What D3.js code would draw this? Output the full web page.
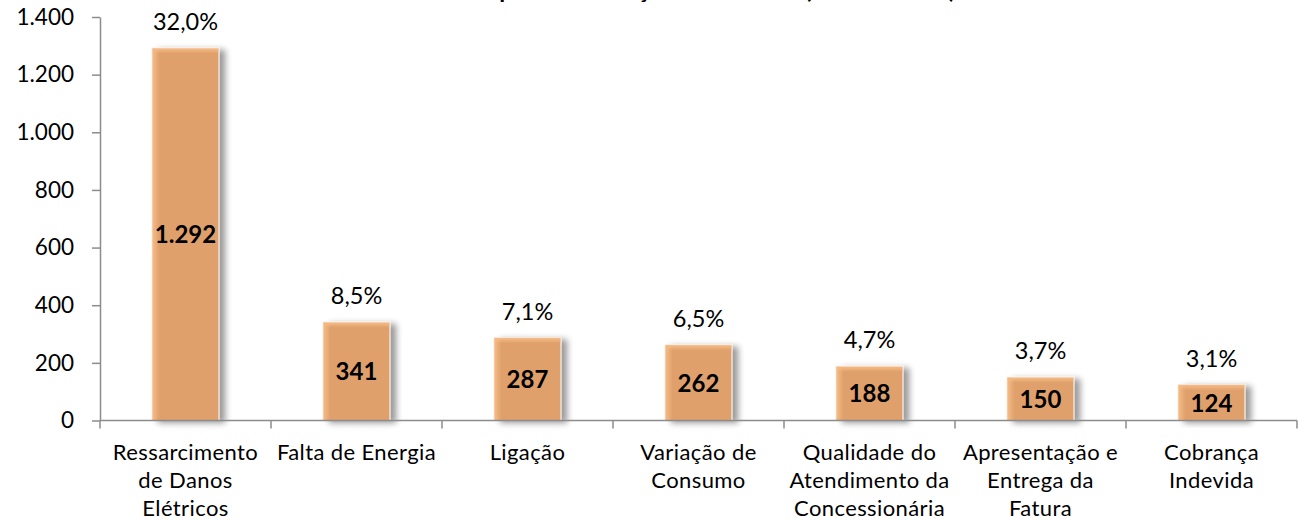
<!DOCTYPE html>
<html>
<head>
<meta charset="utf-8">
<script src="https://cdn.jsdelivr.net/npm/d3@7"></script>
<style>
	html, body { margin: 0; padding: 0; background: #fff; }
	#chart { width: 1305px; height: 520px; }
	svg { display: block; font-family: Lato, "Open Sans", sans-serif; }
</style>
</head>
<body>
<div id="chart"></div>
<script>

const title = "Principais Reclamações Recebidas (Ano de 2012)";

const categories = [
	["Ressarcimento", "de Danos", "Elétricos"],
	["Falta de Energia"],
	["Ligação"],
	["Variação de", "Consumo"],
	["Qualidade do", "Atendimento da", "Concessionária"],
	["Apresentação e", "Entrega da", "Fatura"],
	["Cobrança", "Indevida"]
];
const values = [1292, 341, 287, 262, 188, 150, 124];
const shares = ["32,0%", "8,5%", "7,1%", "6,5%", "4,7%", "3,7%", "3,1%"];
const yTicks = [0, 200, 400, 600, 800, 1000, 1200, 1400];

const w = 1305, h = 520;
const margin = {top: 17, right: 8, bottom: 100, left: 100};

const data = values.map((v, i) => ({key: i, lines: categories[i], value: v, share: shares[i]}));

const fmt = d3.formatLocale({decimal: ",", thousands: ".", grouping: [3], currency: ["R$", ""]}).format(",d");

const x = d3.scaleBand()
	.domain(data.map(d => d.key))
	.range([margin.left, 1297])
	.paddingInner(0.61)
	.paddingOuter(0.305);

const y = d3.scaleLinear()
	.domain([0, 1400])
	.range([420.5, margin.top]);

const svg = d3.select("#chart").append("svg")
	.attr("width", w)
	.attr("height", h);

const defs = svg.append("defs");
const shadow = defs.append("filter")
	.attr("id", "shadow")
	.attr("x", "-20%").attr("y", "-20%")
	.attr("width", "160%").attr("height", "140%");
shadow.append("feGaussianBlur").attr("in", "SourceAlpha").attr("stdDeviation", 3).attr("result", "blur");
shadow.append("feOffset").attr("in", "blur").attr("dx", 6).attr("dy", 2).attr("result", "off");
shadow.append("feComponentTransfer").attr("in", "off").attr("result", "soft")
	.append("feFuncA").attr("type", "linear").attr("slope", 0.4);
const merge = shadow.append("feMerge");
merge.append("feMergeNode").attr("in", "soft");
merge.append("feMergeNode").attr("in", "SourceGraphic");

const gradL = defs.append("linearGradient").attr("id", "edgeL")
	.attr("x1", 0).attr("x2", 1).attr("y1", 0).attr("y2", 0);
gradL.append("stop").attr("offset", 0).attr("stop-color", "#f6bb85").attr("stop-opacity", 1);
gradL.append("stop").attr("offset", 1).attr("stop-color", "#f6bb85").attr("stop-opacity", 0);
const gradT = defs.append("linearGradient").attr("id", "edgeT")
	.attr("x1", 0).attr("x2", 0).attr("y1", 0).attr("y2", 1);
gradT.append("stop").attr("offset", 0).attr("stop-color", "#f6bb85").attr("stop-opacity", 1);
gradT.append("stop").attr("offset", 1).attr("stop-color", "#f6bb85").attr("stop-opacity", 0);

// title, cut by the top edge as in the source
svg.append("text")
	.attr("x", 697)
	.attr("y", -2)
	.attr("text-anchor", "middle")
	.style("font-size", "24px")
	.style("font-weight", "bold")
	.text(title);

// y axis
const yAxis = svg.append("g")
	.attr("transform", `translate(${margin.left},0)`)
	.call(d3.axisLeft(y).tickValues(yTicks).tickFormat(fmt).tickSize(8).tickSizeOuter(0));
yAxis.select(".domain").attr("stroke", "#8c8c8c").attr("stroke-width", 1.5);
yAxis.selectAll(".tick line").attr("stroke", "#8c8c8c").attr("stroke-width", 1.5);
yAxis.selectAll(".tick text")
	.attr("x", -26)
	.attr("fill", "#000")
	.style("font-family", "Lato, sans-serif")
	.style("font-size", "22.5px");

// bars
const bars = svg.append("g").attr("class", "plot")
	.selectAll(".bar")
	.data(data, d => d.key)
	.join("g")
	.attr("class", "bar");

bars.append("rect")
	.attr("x", d => x(d.key))
	.attr("y", d => y(d.value))
	.attr("width", x.bandwidth())
	.attr("height", d => y(0) - y(d.value))
	.attr("fill", "#dfa06c")
	.attr("stroke", "#fbe8d8")
	.attr("stroke-width", 1)
	.attr("filter", "url(#shadow)");

bars.append("rect")
	.attr("x", d => x(d.key) + 0.5)
	.attr("y", d => y(d.value) + 0.5)
	.attr("width", 7)
	.attr("height", d => y(0) - y(d.value) - 1)
	.attr("fill", "url(#edgeL)");

bars.append("rect")
	.attr("x", d => x(d.key) + 0.5)
	.attr("y", d => y(d.value) + 0.5)
	.attr("width", x.bandwidth() - 1)
	.attr("height", 5)
	.attr("fill", "url(#edgeT)");

// x axis
const xAxis = svg.append("g")
	.attr("transform", `translate(0,${y(0)})`);
xAxis.append("line")
	.attr("x1", margin.left).attr("x2", 1297)
	.attr("stroke", "#8c8c8c").attr("stroke-width", 1.5);
xAxis.selectAll(".sep")
	.data(d3.range(data.length + 1))
	.join("line")
	.attr("class", "sep")
	.attr("x1", i => margin.left + i * x.step())
	.attr("x2", i => margin.left + i * x.step())
	.attr("y1", 0).attr("y2", 8)
	.attr("stroke", "#8c8c8c").attr("stroke-width", 1.5);

const labels = svg.append("g").selectAll(".cat")
	.data(data)
	.join("text")
	.attr("class", "cat")
	.attr("text-anchor", "middle")
	.style("font-size", "22px")
	.style("letter-spacing", "0.4px");
labels.selectAll("tspan")
	.data(d => d.lines.map(l => ({l, cx: x(d.key) + x.bandwidth() / 2})))
	.join("tspan")
	.attr("x", t => t.cx)
	.attr("y", (t, i) => 460 + i * 28)
	.text(t => t.l);

// values inside bars
bars.append("text")
	.attr("x", d => x(d.key) + x.bandwidth() / 2)
	.attr("y", d => (y(d.value) + y(0)) / 2 + 9)
	.attr("text-anchor", "middle")
	.style("font-size", "24px")
	.style("font-weight", "bold")
	.text(d => fmt(d.value));

// shares above bars
bars.append("text")
	.attr("x", d => x(d.key) + x.bandwidth() / 2)
	.attr("y", d => y(d.value) - 18)
	.attr("text-anchor", "middle")
	.style("font-size", "23.5px")
	.text(d => d.share);

</script>
</body>
</html>
